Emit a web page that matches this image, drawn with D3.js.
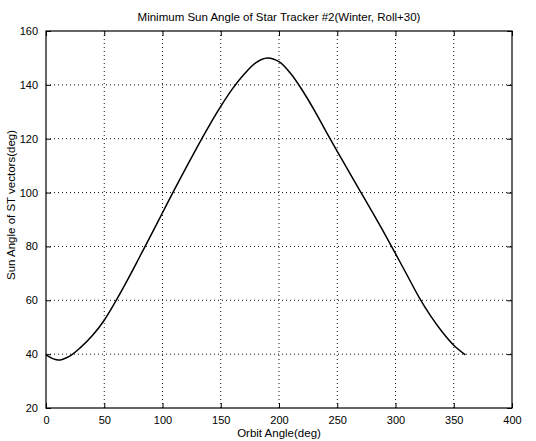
<!DOCTYPE html>
<html>
<head>
<meta charset="utf-8">
<script src="https://cdn.jsdelivr.net/npm/d3@7"></script>
<style>
  html, body { margin: 0; padding: 0; background: #fff; }
  svg { display: block; font-family: "Liberation Sans", Arial, sans-serif; }
</style>
</head>
<body>
<div id="chart"></div>
<script>
// values
const orbitAngle = [0, 10, 20, 30, 40, 50, 60, 70, 80, 90, 100, 110, 120, 130, 140, 150, 160, 170, 180,
  190, 200, 210, 220, 230, 240, 250, 260, 270, 280, 290, 300, 310, 320, 330, 340, 350, 360];
const sunAngle = [39.7, 37.8, 39.2, 42.6, 47, 52.6, 59.8, 67.6, 75.8, 84.1, 92.5, 100.9, 109.1, 117.1, 124.8, 132, 138.5, 143.9, 148.2,
  150, 148.6, 144.2, 138, 130.8, 123, 115.3, 107.8, 100.3, 92.8, 85.2, 77.3, 69.3, 61.3, 54.3, 48.3, 43.3, 39.7];
const xTicks = [0, 50, 100, 150, 200, 250, 300, 350, 400];
const yTicks = [20, 40, 60, 80, 100, 120, 140, 160];

const title = 'Minimum Sun Angle of Star Tracker #2(Winter, Roll+30)';
const xLabel = 'Orbit Angle(deg)';
const yLabel = 'Sun Angle of ST vectors(deg)';

const width = 536;
const height = 441;
const margin = { top: 31, right: 24, bottom: 33, left: 46 };

const svg = d3.select('#chart').append('svg').attr('width', width).attr('height', height);

const x = d3.scaleLinear().domain([0, 400]).range([margin.left, width - margin.right]);
const y = d3.scaleLinear().domain([20, 160]).range([height - margin.bottom, margin.top]);

const x0 = x.range()[0], x1 = x.range()[1];
const y0 = y.range()[0], y1 = y.range()[1];

// dotted grid
const grid = svg.append('g').attr('stroke', '#111').attr('stroke-width', 1).attr('stroke-dasharray', '1,3');
grid.selectAll('.gx').data(xTicks.slice(1, -1)).join('line')
  .attr('x1', (d) => x(d)).attr('x2', (d) => x(d)).attr('y1', y1).attr('y2', y0);
grid.selectAll('.gy').data(yTicks.slice(1, -1)).join('line')
  .attr('x1', x0).attr('x2', x1).attr('y1', (d) => y(d)).attr('y2', (d) => y(d));

// axes, ticks inward like matlab
const tick = 5;
svg.append('g').attr('transform', `translate(0,${y0})`)
  .call(d3.axisBottom(x).tickValues(xTicks).tickSize(-tick).tickPadding(tick + 3))
  .call((g) => g.select('.domain').remove());
svg.append('g').attr('transform', `translate(0,${y1})`)
  .call(d3.axisTop(x).tickValues(xTicks).tickSize(-tick).tickFormat(''))
  .call((g) => g.select('.domain').remove());
svg.append('g').attr('transform', `translate(${x0},0)`)
  .call(d3.axisLeft(y).tickValues(yTicks).tickSize(-tick).tickPadding(tick + 3))
  .call((g) => g.select('.domain').remove());
svg.append('g').attr('transform', `translate(${x1},0)`)
  .call(d3.axisRight(y).tickValues(yTicks).tickSize(-tick).tickFormat(''))
  .call((g) => g.select('.domain').remove());

svg.selectAll('.tick text').attr('font-size', 11).attr('fill', '#000')
  .attr('font-family', '"Liberation Sans", Arial, sans-serif');
svg.selectAll('.tick line').attr('stroke', '#000');

svg.append('rect').attr('x', x0).attr('y', y1).attr('width', x1 - x0).attr('height', y0 - y1)
  .attr('fill', 'none').attr('stroke', '#000').attr('stroke-width', 1.2);

// curve
const line = d3.line().x((d, i) => x(orbitAngle[i])).y((d) => y(d)).curve(d3.curveCatmullRom);
svg.append('path').datum(sunAngle).attr('d', line)
  .attr('fill', 'none').attr('stroke', '#000').attr('stroke-width', 1.5);

// texts
svg.append('text').attr('x', (x0 + x1) / 2).attr('y', 21).attr('text-anchor', 'middle')
  .attr('font-size', 11.5).text(title);
svg.append('text').attr('x', (x0 + x1) / 2).attr('y', 437).attr('text-anchor', 'middle')
  .attr('font-size', 11.5).text(xLabel);
svg.append('text').attr('transform', `translate(15,205) rotate(-90)`).attr('text-anchor', 'middle')
  .attr('font-size', 11.5).text(yLabel);
</script>
</body>
</html>
